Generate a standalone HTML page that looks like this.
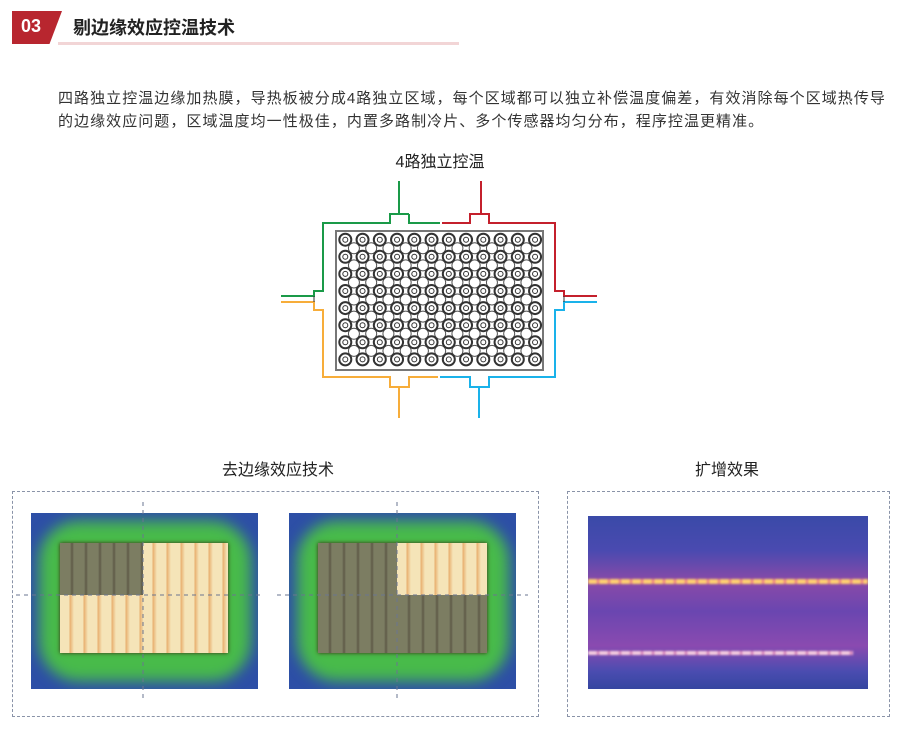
<!DOCTYPE html>
<html><head><meta charset="utf-8"><style>
body{margin:0;width:907px;height:736px;background:#fff;position:relative;overflow:hidden;font-family:"Liberation Sans","Noto Sans CJK SC",sans-serif;color:#333}
.abs{position:absolute}
.img{position:absolute;overflow:hidden}
.blue{background:#2d4fa6}
.green{position:absolute;background:#48bb4a;border-radius:40px;filter:blur(7px)}
.board{position:absolute;box-shadow:0 0 4px #3a2a10}
.q{position:absolute}
.light{background:repeating-linear-gradient(90deg,#f5e4b8 0 9px,#e8b070 10px,#f5e4b8 14px)}
.dark{background:repeating-linear-gradient(90deg,#7c7d62 0 10px,#5e5a48 12px,#7c7d62 14px)}
</style></head><body>
<div class="abs" style="left:12px;top:11px;width:50px;height:33px;background:#b8262f;clip-path:polygon(0 0,100% 0,75% 100%,0 100%)"></div>
<div class="abs" style="left:21px;top:16px;color:#fff;font-weight:bold;font-size:18px">03</div>
<div class="abs" style="left:73px;top:14px;font-weight:bold;font-size:18px;color:#222">剔边缘效应控温技术</div>
<div class="abs" style="left:58px;top:42px;width:401px;height:3px;background:#f2d5d6"></div>
<div class="abs" style="left:58px;top:87px;width:860px;font-size:15px;letter-spacing:1.05px;line-height:23px;color:#333;white-space:nowrap">四路独立控温边缘加热膜，导热板被分成4路独立区域，每个区域都可以独立补偿温度偏差，有效消除每个区域热传导<br>的边缘效应问题，区域温度均一性极佳，内置多路制冷片、多个传感器均匀分布，程序控温更精准。</div>
<div class="abs" style="left:380px;top:148px;width:120px;text-align:center;font-size:16px;color:#222">4路独立控温</div>

<svg class="abs" style="left:0;top:0" width="907" height="440" fill="none" stroke-width="2">
<rect x="336" y="231" width="207" height="139" fill="#fff" stroke="#777" stroke-width="2"/>
<g id="cells"></g>
<path d="M399 181V214H390V223H323V291H314V296H281M409 214H399M409 214V223H440" stroke="#1a9a48"/>
<path d="M281 302H314V310H323V377H390V387H409V377H438M399 387V418" stroke="#f7ad3a"/>
<path d="M440 377H470V387H489V377H555V310H564V302H597M479 387V418" stroke="#1ab2ea"/>
<path d="M442 223H470V214H489V223H555V291H564V296H597M481 181V214" stroke="#c4202c"/>
<path d="M314 296V302M564 296V302" stroke="#333" stroke-width="1"/>
</svg>

<div class="abs" style="left:178px;top:456px;width:200px;text-align:center;font-size:16px;color:#222">去边缘效应技术</div>
<div class="abs" style="left:627px;top:456px;width:200px;text-align:center;font-size:16px;color:#222">扩增效果</div>
<div class="abs" style="left:12px;top:491px;width:525px;height:224px;border:1px dashed #8a93a8"></div>
<div class="abs" style="left:567px;top:491px;width:321px;height:224px;border:1px dashed #8a93a8"></div>

<div class="img blue" style="left:31px;top:513px;width:227px;height:176px">
 <div class="green" style="left:8px;top:8px;width:212px;height:160px"></div>
 <div class="board" style="left:29px;top:30px;width:168px;height:110px">
  <div class="q dark" style="left:0;top:0;width:83px;height:52px"></div>
  <div class="q light" style="left:83px;top:0;width:85px;height:52px"></div>
  <div class="q light" style="left:0;top:52px;width:83px;height:58px"></div>
  <div class="q light" style="left:83px;top:52px;width:85px;height:58px"></div>
 </div>
</div>
<div class="img blue" style="left:289px;top:513px;width:227px;height:176px">
 <div class="green" style="left:8px;top:8px;width:212px;height:160px"></div>
 <div class="board" style="left:29px;top:30px;width:169px;height:110px">
  <div class="q dark" style="left:0;top:0;width:79px;height:52px"></div>
  <div class="q light" style="left:79px;top:0;width:90px;height:52px"></div>
  <div class="q dark" style="left:0;top:52px;width:79px;height:58px"></div>
  <div class="q dark" style="left:79px;top:52px;width:90px;height:58px"></div>
 </div>
</div>
<div class="img" style="left:588px;top:516px;width:280px;height:173px;background:linear-gradient(180deg,#3a4aa8 0%,#4a4ab0 20%,#8a4aa8 38%,#6a46b0 55%,#8a4ab0 75%,#4a4cb0 90%,#3546a0 100%)">
 <div class="abs" style="left:0;top:63px;width:280px;height:5px;background:repeating-linear-gradient(90deg,#ffd070 0 8px,#e05090 11px);filter:blur(1px)"></div>
 <div class="abs" style="left:0;top:135px;width:265px;height:4px;background:repeating-linear-gradient(90deg,#f8d0e0 0 8px,#c050a0 11px);filter:blur(1px)"></div>
</div>

<svg class="abs" style="left:0;top:0" width="907" height="736" fill="none" stroke="#6a7590" stroke-width="1" stroke-dasharray="4 4">
<path d="M143 502V698M16 595H264M397 502V698M277 595H528"/>
</svg>

<script>
var g=document.getElementById('cells'),s='';
var px=17.25,py=17.1,x0=345.3,y0=239.7;
for(var r=0;r<8;r++)for(var c=0;c<12;c++){var x=x0+c*px,y=y0+r*py;
 if(r<7&&c<11)s+='<circle cx="'+(x+px/2)+'" cy="'+(y+py/2)+'" r="5.5" fill="#fff" stroke="#555" stroke-width="1"/>';}
for(var r=0;r<8;r++)for(var c=0;c<12;c++){var x=x0+c*px,y=y0+r*py;
 s+='<circle cx="'+x+'" cy="'+y+'" r="6" fill="#fff" stroke="#333" stroke-width="2"/><circle cx="'+x+'" cy="'+y+'" r="2.5" stroke="#333" stroke-width="1"/>';}
g.innerHTML=s;
</script>
</body></html>
